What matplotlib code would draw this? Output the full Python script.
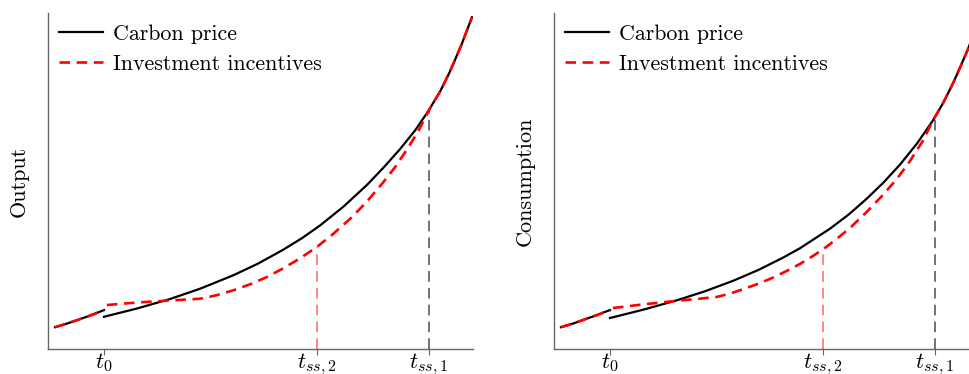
import numpy as np
import matplotlib.pyplot as plt

plt.rcParams["font.family"] = "serif"
plt.rcParams["font.serif"] = ["cmr10", "DejaVu Serif"]
plt.rcParams["mathtext.fontset"] = "cm"
plt.rcParams["axes.unicode_minus"] = False

# tick positions (years)
t0, tss2, tss1 = 10.0, 53.5, 76.3
tick_labels = [r"$t_0$", r"$t_{ss,2}$", r"$t_{ss,1}$"]
ylabels = ["Output", "Consumption"]

# ---- Output panel ----
pre_t_out = [0.0, 2.5, 5.1, 7.6, 10.0]
pre_y_out = [6.5, 7.6, 8.9, 10.2, 11.6]

carbon_t_out = [10.0, 16.7, 23.5, 29.6, 36.3, 41.4, 46.5, 50.4, 54.1, 58.8,
                63.7, 67.1, 70.4, 73.5, 76.3, 78.6, 80.6, 82.9, 85.1]
carbon_y_out = [9.6, 12.05, 14.9, 17.95, 21.9, 25.4, 29.5, 33.0, 36.8, 42.3,
                48.9, 54.1, 59.5, 65.1, 71.1, 76.7, 82.6, 90.4, 98.8]

invest_t_out = [10.6, 16.7, 22.9, 29.6, 31.6, 33.1, 36.3, 39.8, 43.1, 46.5,
                50.0, 53.5, 56.7, 60.2, 63.5, 66.9, 69.4, 71.8, 74.1, 76.3,
                78.6, 80.6, 82.9, 85.1]
invest_y_out = [13.1, 13.84, 14.4, 14.97, 15.57, 16.07, 17.44, 19.26, 21.34, 23.96,
                26.99, 30.45, 34.17, 38.72, 43.63, 49.49, 54.14, 59.32, 64.73, 71.1,
                76.7, 82.6, 90.4, 98.8]

# ---- Consumption panel ----
pre_t_con = [0.0, 2.5, 5.0, 7.5, 10.0]
pre_y_con = [6.5, 7.6, 8.9, 10.2, 11.6]

carbon_t_con = [10.0, 16.7, 23.7, 29.4, 35.1, 40.2, 45.3, 48.8, 54.9, 58.8,
                62.4, 65.9, 69.2, 72.7, 75.9, 78.0, 80.0, 81.6, 83.1, 84.5]
carbon_y_con = [9.23, 11.68, 14.52, 17.2, 20.3, 23.48, 27.2, 30.03, 35.83, 40.15,
                44.76, 49.7, 54.94, 61.28, 68.04, 73.3, 79.1, 84.35, 89.46, 95.1]

invest_t_con = [10.6, 17.1, 23.7, 27.8, 31.8, 34.5, 37.1, 40.2, 43.3, 46.1,
                48.8, 51.2, 53.5, 56.3, 59.0, 62.2, 65.7, 68.6, 71.2, 73.9,
                75.9, 78.0, 80.0, 81.6, 83.1, 84.5]
invest_y_con = [12.2, 13.33, 14.37, 14.91, 15.51, 16.52, 17.77, 19.4, 21.28, 23.27,
                25.36, 27.5, 29.7, 32.83, 36.07, 40.54, 45.86, 50.77, 55.92, 62.11,
                68.04, 73.3, 79.1, 84.35, 89.46, 95.1]

panels = [
    (pre_t_out, pre_y_out, carbon_t_out, carbon_y_out, invest_t_out, invest_y_out),
    (pre_t_con, pre_y_con, carbon_t_con, carbon_y_con, invest_t_con, invest_y_con),
]

fig = plt.figure(figsize=(9.69, 3.74), dpi=100)
ax_pos = [[0.0495, 0.0668, 0.4386, 0.898], [0.5717, 0.0668, 0.4386, 0.898]]

for pos, ylab, (pt, py, ct, cy, it, iy) in zip(ax_pos, ylabels, panels):
    ax = fig.add_axes(pos)
    ax.plot(pt, py, color="black", lw=1.6, zorder=2)
    ax.plot(ct, cy, color="black", lw=1.6, label="Carbon price", zorder=2)
    ax.plot(pt, py, color="red", lw=1.9, ls=(0, (4, 2.5)), zorder=3)
    ax.plot(it, iy, color="red", lw=1.9, ls=(0, (4, 2.5)),
            label="Investment incentives", zorder=3)

    # vertical guides from the axis up to the curves
    y_ss2 = np.interp(tss2, it, iy)
    y_ss1 = np.interp(tss1, ct, cy)
    ax.plot([tss2, tss2], [0, y_ss2], color="red", alpha=0.6, lw=1.1,
            ls=(0, (7, 4)), zorder=1)
    ax.plot([tss1, tss1], [0, y_ss1], color="black", alpha=0.7, lw=1.1,
            ls=(0, (7, 4)), zorder=1)

    ax.set_xlim(-1.43, 85.3)
    ax.set_ylim(0, 100)
    ax.set_xticks([t0, tss2, tss1])
    ax.set_xticklabels(tick_labels, fontsize=16.5)
    ax.set_yticks([])
    ax.set_ylabel(ylab, fontsize=16, labelpad=13.7)
    for s in ["top", "right"]:
        ax.spines[s].set_visible(False)
    for s in ["left", "bottom"]:
        ax.spines[s].set_color("0.4")
        ax.spines[s].set_linewidth(1.0)
    ax.tick_params(axis="x", length=4.5, color="0.4", pad=-3)
    ax.legend(loc="upper left", frameon=False, fontsize=15.8,
              handlelength=2.0, handletextpad=0.45, borderaxespad=0.1,
              labelspacing=0.48)

fig.savefig("out.png", dpi=100)
